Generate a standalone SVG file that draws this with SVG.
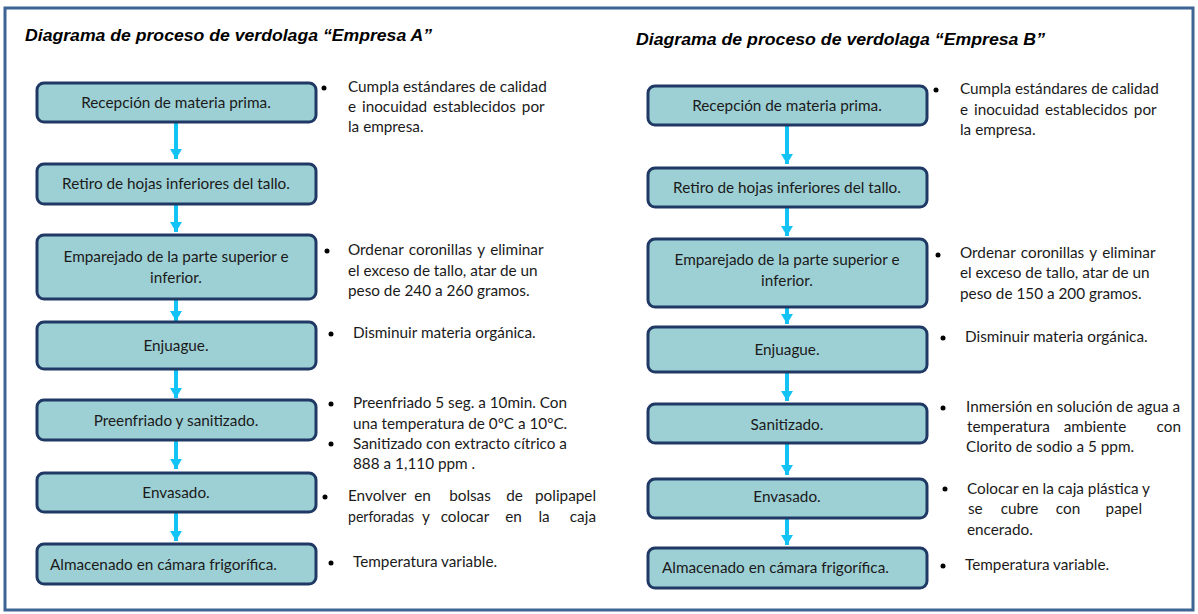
<svg xmlns="http://www.w3.org/2000/svg" width="1198" height="614" viewBox="0 0 1198 614">
<style>
.frame{fill:#fff;stroke:#3d6494;stroke-width:3}
.title{font-family:"Liberation Sans",Arial,sans-serif;font-weight:bold;font-style:italic;font-size:17px;fill:#000}
.box{fill:#9dd0d4;stroke:#1f3864;stroke-width:3}
.bt{font-family:Lato,"Open Sans",sans-serif;font-size:15.3px;fill:#1a1a1a;text-anchor:middle}
.bl{font-family:Lato,"Open Sans",sans-serif;font-size:15.3px;fill:#1a1a1a}
.nt{font-family:Lato,"Open Sans",sans-serif;font-size:15.3px;fill:#1a1a1a}
.m{text-anchor:middle}
.e{text-anchor:end}
.dot{fill:#000}
.shaft{stroke:#14c3f5;stroke-width:4}
.head{fill:#14c3f5}
</style>
<defs>
<marker id="ah" viewBox="0 0 10 12" refX="10" refY="6" markerWidth="10" markerHeight="12" markerUnits="userSpaceOnUse" orient="auto">
<path d="M0,0 L10,6 L0,12 Z" class="head"/>
</marker>
</defs>
<rect class="frame" x="5" y="8" width="1188" height="602"/>
<text class="title" x="25" y="41" textLength="407" lengthAdjust="spacingAndGlyphs">Diagrama de proceso de verdolaga “Empresa A”</text>
<text class="title" x="636" y="45" textLength="409" lengthAdjust="spacingAndGlyphs">Diagrama de proceso de verdolaga “Empresa B”</text>

<g id="connectors">
<line class="shaft" x1="176" y1="122" x2="176" y2="159" marker-end="url(#ah)"/>
<line class="shaft" x1="176" y1="204" x2="176" y2="232" marker-end="url(#ah)"/>
<line class="shaft" x1="176" y1="299" x2="176" y2="321" marker-end="url(#ah)"/>
<line class="shaft" x1="176" y1="369" x2="176" y2="398" marker-end="url(#ah)"/>
<line class="shaft" x1="176" y1="440" x2="176" y2="469" marker-end="url(#ah)"/>
<line class="shaft" x1="176" y1="512" x2="176" y2="541" marker-end="url(#ah)"/>
<line class="shaft" x1="787" y1="125" x2="787" y2="164" marker-end="url(#ah)"/>
<line class="shaft" x1="787" y1="207" x2="787" y2="236" marker-end="url(#ah)"/>
<line class="shaft" x1="787" y1="307" x2="787" y2="324" marker-end="url(#ah)"/>
<line class="shaft" x1="787" y1="372" x2="787" y2="401" marker-end="url(#ah)"/>
<line class="shaft" x1="787" y1="443" x2="787" y2="475" marker-end="url(#ah)"/>
<line class="shaft" x1="787" y1="518" x2="787" y2="545" marker-end="url(#ah)"/>
</g>

<g id="a1"><rect class="box" x="37" y="83" width="279" height="39" rx="7"/><text class="bt" x="176" y="108">Recepción de materia prima.</text></g>
<g id="a2"><rect class="box" x="37" y="164" width="279" height="40" rx="7"/><text class="bt" x="176" y="189">Retiro de hojas inferiores del tallo.</text></g>
<g id="a3"><rect class="box" x="37" y="235" width="279" height="64" rx="7"/><text class="bt" x="176" y="262">Emparejado de la parte superior e</text><text class="bt" x="176" y="283">inferior.</text></g>
<g id="a4"><rect class="box" x="37" y="322" width="279" height="47" rx="7"/><text class="bt" x="176" y="351">Enjuague.</text></g>
<g id="a5"><rect class="box" x="37" y="400" width="279" height="40" rx="7"/><text class="bt" x="176" y="426">Preenfriado y sanitizado.</text></g>
<g id="a6"><rect class="box" x="37" y="473" width="279" height="39" rx="7"/><text class="bt" x="176" y="498">Envasado.</text></g>
<g id="a7"><rect class="box" x="37" y="544" width="279" height="40" rx="7"/><text class="bl" x="50" y="570">Almacenado en cámara frigorífica.</text></g>

<g id="na1"><circle class="dot" cx="324" cy="88" r="2.5"/><text class="nt" x="348" y="92">Cumpla estándares de calidad</text><text class="nt" x="348" y="112" word-spacing="2">e inocuidad establecidos por</text><text class="nt" x="348" y="132">la empresa.</text></g>
<g id="na3"><circle class="dot" cx="327" cy="251" r="2.5"/><text class="nt" x="348" y="255" word-spacing="1.5">Ordenar coronillas y eliminar</text><text class="nt" x="348" y="276">el exceso de tallo, atar de un</text><text class="nt" x="348" y="296">peso de 240 a 260 gramos.</text></g>
<g id="na4"><circle class="dot" cx="331" cy="334" r="2.5"/><text class="nt" x="353" y="338">Disminuir materia orgánica.</text></g>
<g id="na5"><circle class="dot" cx="331" cy="404" r="2.5"/><text class="nt" x="353" y="408">Preenfriado 5 seg. a 10min. Con</text><text class="nt" x="353" y="429">una temperatura de 0ºC a 10ºC.</text><circle class="dot" cx="331" cy="444" r="2.5"/><text class="nt" x="353" y="449">Sanitizado con extracto cítrico a</text><text class="nt" x="353" y="469">888 a 1,110 ppm .</text></g>
<g id="na6"><circle class="dot" cx="325" cy="497" r="2.5"/>
<text class="nt" x="348" y="501">Envolver</text><text class="nt m" x="422.5" y="501">en</text><text class="nt m" x="470" y="501">bolsas</text><text class="nt m" x="514.5" y="501">de</text><text class="nt e" x="596" y="501">polipapel</text>
<text class="nt" x="348" y="522" textLength="66" lengthAdjust="spacingAndGlyphs">perforadas</text><text class="nt m" x="426" y="522">y</text><text class="nt m" x="465" y="522">colocar</text><text class="nt m" x="513.5" y="522">en</text><text class="nt m" x="544" y="522">la</text><text class="nt e" x="596" y="522">caja</text></g>
<g id="na7"><circle class="dot" cx="331" cy="563" r="2.5"/><text class="nt" x="353" y="567">Temperatura variable.</text></g>

<g id="b1"><rect class="box" x="648" y="86" width="279" height="39" rx="7"/><text class="bt" x="787" y="111">Recepción de materia prima.</text></g>
<g id="b2"><rect class="box" x="648" y="168" width="279" height="39" rx="7"/><text class="bt" x="787" y="193">Retiro de hojas inferiores del tallo.</text></g>
<g id="b3"><rect class="box" x="648" y="239" width="279" height="68" rx="7"/><text class="bt" x="787" y="265">Emparejado de la parte superior e</text><text class="bt" x="787" y="286">inferior.</text></g>
<g id="b4"><rect class="box" x="648" y="327" width="279" height="45" rx="7"/><text class="bt" x="787" y="355">Enjuague.</text></g>
<g id="b5"><rect class="box" x="648" y="404" width="279" height="39" rx="7"/><text class="bt" x="787" y="430">Sanitizado.</text></g>
<g id="b6"><rect class="box" x="648" y="479" width="279" height="39" rx="7"/><text class="bt" x="787" y="502">Envasado.</text></g>
<g id="b7"><rect class="box" x="648" y="548" width="279" height="40" rx="7"/><text class="bl" x="662" y="573">Almacenado en cámara frigorífica.</text></g>

<g id="nb1"><circle class="dot" cx="936" cy="90" r="2.5"/><text class="nt" x="960" y="94">Cumpla estándares de calidad</text><text class="nt" x="960" y="115" word-spacing="2">e inocuidad establecidos por</text><text class="nt" x="960" y="135">la empresa.</text></g>
<g id="nb3"><circle class="dot" cx="938" cy="255" r="2.5"/><text class="nt" x="960" y="258" word-spacing="1.5">Ordenar coronillas y eliminar</text><text class="nt" x="960" y="278">el exceso de tallo, atar de un</text><text class="nt" x="960" y="299">peso de 150 a 200 gramos.</text></g>
<g id="nb4"><circle class="dot" cx="943" cy="338" r="2.5"/><text class="nt" x="965" y="342">Disminuir materia orgánica.</text></g>
<g id="nb5"><circle class="dot" cx="943" cy="408" r="2.5"/><text class="nt" x="966" y="412">Inmersión en solución de agua a</text>
<text class="nt" x="967" y="432">temperatura</text><text class="nt m" x="1095" y="432">ambiente</text><text class="nt e" x="1181" y="432">con</text>
<text class="nt" x="966" y="452">Clorito de sodio a 5 ppm.</text></g>
<g id="nb6"><circle class="dot" cx="945" cy="489" r="2.5"/><text class="nt" x="967" y="494">Colocar en la caja plástica y</text>
<text class="nt" x="968" y="514">se</text><text class="nt m" x="1019.5" y="514">cubre</text><text class="nt m" x="1068" y="514">con</text><text class="nt e" x="1142" y="514">papel</text>
<text class="nt" x="967" y="535">encerado.</text></g>
<g id="nb7"><circle class="dot" cx="943" cy="566" r="2.5"/><text class="nt" x="965" y="570">Temperatura variable.</text></g>
</svg>
